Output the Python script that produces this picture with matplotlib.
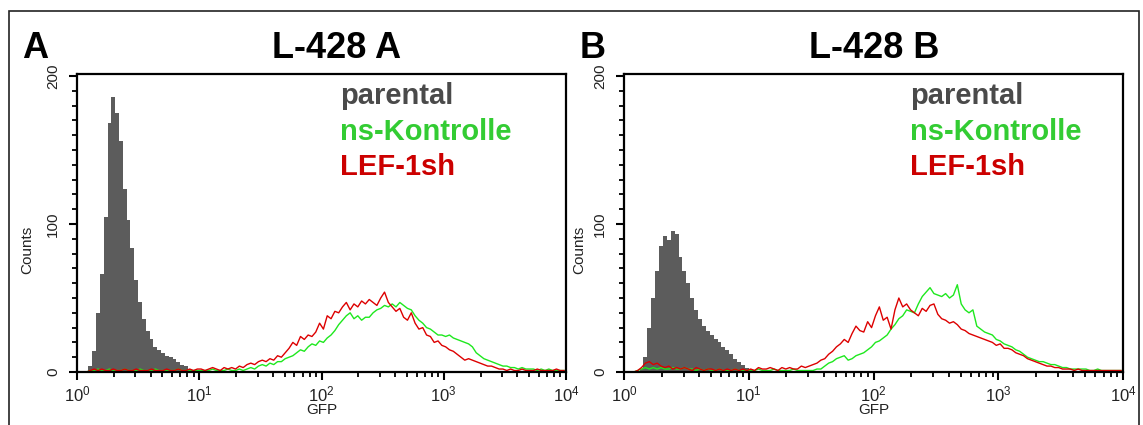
import matplotlib
matplotlib.use("Agg")
import matplotlib.pyplot as plt
import matplotlib.ticker as mticker
import matplotlib.transforms as mtransforms
import numpy as np
from matplotlib.patches import Rectangle

plt.rcParams["font.family"] = ["Liberation Sans", "DejaVu Sans"]
plt.rcParams["mathtext.default"] = "regular"

# 128 log channels from 10^0 to 10^4 (32 per decade), counts
parental_a = [
    0, 0, 1, 4, 14, 40, 66, 105, 168, 186, 175, 156, 124, 103, 84, 62,
    47, 36, 28, 22, 17, 15, 13, 11, 10, 9, 7, 5, 4, 2, 1, 1,
    0, 0, 0, 0, 0, 0, 0, 0, 0, 0, 0, 0, 0, 0, 0, 0,
    0, 0, 0, 0, 0, 0, 0, 0, 0, 0, 0, 1, 0, 1, 0, 1,
    0, 0, 0, 0, 0, 0, 0, 0, 0, 0, 0, 0, 0, 0, 0, 1,
    1, 0, 1, 0, 0, 1, 0, 0, 1, 0, 0, 1, 0, 0, 1, 0,
    0, 1, 0, 0, 0, 0, 0, 0, 0, 0, 0, 0, 0, 0, 0, 0,
    0, 0, 0, 0, 0, 0, 0, 0, 0, 0, 0, 0, 0, 0, 0, 0,
]
ns_a = [
    0, 0, 0, 1, 1, 2, 1, 1, 2, 1, 1, 1, 2, 1, 1, 1,
    2, 1, 1, 1, 2, 1, 1, 1, 1, 1, 2, 1, 1, 1, 1, 1,
    1, 1, 1, 2, 1, 1, 1, 2, 1, 1, 2, 1, 2, 3, 2, 4,
    5, 4, 6, 5, 7, 7, 9, 10, 11, 13, 15, 14, 17, 19, 18, 21,
    20, 23, 25, 28, 32, 35, 38, 40, 36, 38, 35, 37, 37, 40, 42, 43,
    45, 44, 46, 44, 47, 45, 43, 42, 38, 35, 33, 30, 29, 27, 25, 25,
    24, 25, 23, 22, 21, 20, 19, 17, 13, 11, 9, 8, 7, 6, 5, 4,
    4, 3, 3, 2, 3, 2, 2, 2, 1, 2, 1, 2, 1, 1, 1, 1,
]
lef_a = [
    0, 0, 0, 1, 2, 1, 2, 1, 1, 2, 1, 1, 2, 1, 1, 2,
    1, 1, 1, 2, 1, 1, 1, 2, 1, 1, 2, 1, 1, 2, 1, 2,
    2, 1, 2, 3, 2, 1, 3, 2, 3, 2, 4, 3, 5, 6, 5, 7,
    8, 7, 9, 8, 11, 10, 13, 16, 20, 18, 24, 22, 25, 24, 27, 33,
    29, 38, 36, 41, 40, 44, 47, 42, 46, 44, 48, 46, 49, 47, 45, 50,
    54, 47, 44, 41, 43, 37, 35, 40, 33, 29, 30, 25, 24, 20, 21, 18,
    17, 15, 14, 12, 10, 8, 9, 8, 7, 6, 5, 4, 4, 3, 2, 2,
    1, 2, 1, 1, 2, 1, 1, 1, 2, 1, 1, 1, 1, 2, 1, 1,
]

parental_b = [
    0, 0, 0, 1, 2, 10, 30, 50, 68, 85, 92, 89, 95, 93, 78, 68,
    60, 50, 42, 36, 31, 28, 25, 22, 20, 17, 15, 12, 9, 7, 5, 3,
    2, 1, 1, 0, 0, 0, 0, 0, 0, 0, 0, 0, 0, 0, 0, 0,
    0, 0, 0, 0, 0, 0, 0, 0, 0, 0, 0, 0, 0, 1, 0, 0,
    0, 0, 0, 0, 0, 0, 0, 0, 0, 0, 0, 0, 0, 0, 0, 0,
    0, 0, 0, 0, 0, 1, 0, 1, 0, 0, 0, 0, 0, 0, 0, 0,
    0, 0, 0, 0, 0, 0, 0, 0, 0, 0, 0, 0, 0, 0, 0, 0,
    0, 0, 0, 0, 0, 0, 0, 0, 0, 0, 0, 0, 0, 0, 0, 0,
]
ns_b = [
    0, 0, 0, 1, 2, 3, 2, 3, 2, 3, 2, 2, 3, 2, 2, 3,
    2, 2, 1, 2, 1, 2, 1, 1, 2, 1, 1, 1, 2, 1, 1, 1,
    1, 1, 2, 1, 1, 1, 2, 1, 1, 1, 1, 2, 1, 1, 1, 1,
    1, 2, 2, 4, 6, 7, 9, 10, 11, 8, 9, 11, 12, 13, 15, 17,
    20, 21, 23, 25, 29, 32, 36, 38, 42, 41, 40, 46, 51, 54, 57, 53,
    52, 51, 53, 50, 52, 59, 46, 42, 40, 42, 31, 29, 27, 26, 25, 22,
    21, 19, 18, 17, 15, 14, 12, 10, 9, 8, 7, 7, 6, 5, 5, 4,
    3, 3, 2, 2, 2, 2, 2, 1, 1, 2, 1, 1, 1, 1, 1, 1,
]
lef_b = [
    0, 0, 0, 1, 3, 6, 7, 5, 6, 4, 3, 4, 2, 3, 2, 3,
    2, 1, 3, 2, 1, 2, 2, 1, 2, 1, 2, 1, 2, 1, 2, 1,
    2, 1, 3, 2, 2, 3, 2, 1, 3, 2, 3, 2, 2, 4, 3, 4,
    5, 6, 8, 9, 12, 14, 17, 19, 22, 20, 26, 31, 28, 27, 34, 30,
    38, 44, 35, 37, 29, 42, 50, 44, 46, 42, 40, 38, 43, 41, 45, 46,
    39, 36, 35, 33, 34, 32, 29, 28, 26, 25, 24, 23, 22, 21, 20, 18,
    19, 16, 16, 15, 13, 12, 11, 9, 8, 7, 6, 5, 4, 4, 3, 3,
    2, 2, 2, 1, 2, 1, 1, 1, 1, 1, 1, 1, 1, 1, 1, 1,
]

panel_letters = ["A", "B"]
titles = ["L-428 A", "L-428 B"]
legend_labels = ["parental", "ns-Kontrolle", "LEF-1sh"]
x_ticks = [1, 10, 100, 1000, 10000]
x_tick_labels = ["$10^{0}$", "$10^{1}$", "$10^{2}$", "$10^{3}$", "$10^{4}$"]
y_ticks = [0, 100, 200]

GRAY = "#5c5c5c"
GREEN = "#1ee81e"
RED = "#dd0000"
legend_colors = ["#4a4a4a", "#33cc33", "#cc0000"]

W, H = 1143, 425
fig = plt.figure(figsize=(W / 100, H / 100), dpi=100)


def box(l, t, r, b):
    return [l / W, 1 - b / H, (r - l) / W, (b - t) / H]


def fx(x):
    return x / W


def fy(y):
    return 1 - y / H


# outer frame of the figure
fig.patches.append(Rectangle((fx(9), fy(440)), fx(1139) - fx(9), fy(11) - fy(440),
                             transform=fig.transFigure, fill=False,
                             edgecolor="#222222", linewidth=1.2))

edges = np.logspace(0, 4, len(parental_a) + 1)
centers = np.sqrt(edges[:-1] * edges[1:])

panels = [
    (box(77, 74, 566, 372), parental_a, ns_a, lef_a, 22, 337, 340, 27),
    (box(624, 74, 1123, 372), parental_b, ns_b, lef_b, 580, 874, 910, 579),
]

shift_down = mtransforms.ScaledTranslation(0, -4 / 100, fig.dpi_scale_trans)

for i, (rect, gray, green, red, letter_x, title_x, leg_x, counts_x) in enumerate(panels):
    ax = fig.add_axes(rect)
    ax.stairs(gray, edges, fill=True, color=GRAY, zorder=1)
    ax.plot(centers, green, color=GREEN, lw=1.0, zorder=2)
    ax.plot(centers, red, color=RED, lw=1.0, zorder=3)

    ax.set_xscale("log")
    ax.set_xlim(1, 10000)
    ax.set_ylim(0, 201.4)
    ax.set_xticks(x_ticks)
    ax.set_xticklabels(x_tick_labels, fontsize=12, color="#222222")
    ax.xaxis.set_minor_locator(mticker.LogLocator(base=10, subs=np.arange(2, 10)))
    ax.xaxis.set_minor_formatter(mticker.NullFormatter())
    ax.set_yticks(y_ticks)
    ax.set_yticklabels([str(v) for v in y_ticks], rotation=90, va="center",
                       fontsize=11, color="#222222")
    for lab in ax.get_yticklabels():
        lab.set_transform(lab.get_transform() + shift_down)
    ax.yaxis.set_minor_locator(mticker.MultipleLocator(10))
    ax.tick_params(which="major", direction="out", length=6, width=1.5, pad=3)
    ax.tick_params(axis="y", which="major", pad=6)
    ax.tick_params(which="minor", direction="out", length=3.5, width=1.3)
    for sp in ax.spines.values():
        sp.set_linewidth(1.6)
        sp.set_zorder(5)
    ax.set_xlabel("GFP", fontsize=11, labelpad=-1, color="#222222")

    fig.text(fx(counts_x), fy(250), "Counts", rotation=90, fontsize=11,
             ha="center", va="center", color="#222222")
    fig.text(fx(letter_x), fy(58), panel_letters[i], fontsize=26,
             fontweight="bold", ha="left", va="baseline")
    fig.text(fx(title_x), fy(58), titles[i], fontsize=26,
             fontweight="bold", ha="center", va="baseline")
    for j, (lab, col) in enumerate(zip(legend_labels, legend_colors)):
        fig.text(fx(leg_x), fy(104 + 35.5 * j), lab, fontsize=21,
                 fontweight="bold", color=col, ha="left", va="baseline")

fig.savefig("out.png", dpi=100)
